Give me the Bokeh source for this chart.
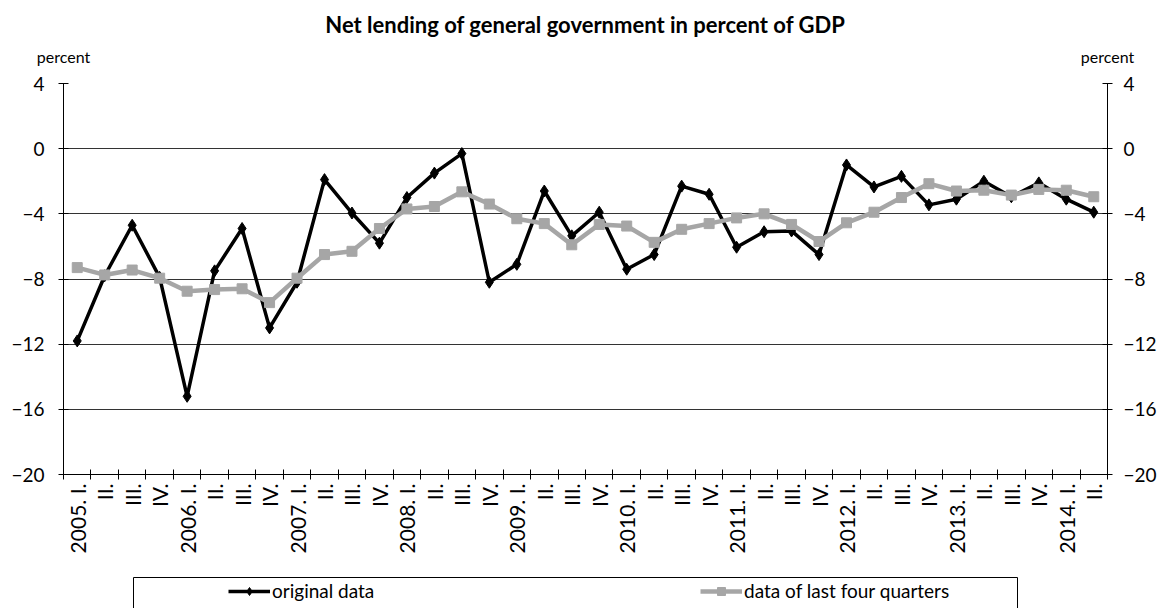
import math
from bokeh.plotting import figure
from bokeh.layouts import column
from bokeh.models import (Range1d, LinearAxis, FixedTicker, Legend, LegendItem, BoxAnnotation)
from bokeh.embed import file_html
from bokeh.resources import INLINE

# ---- data ----
quarters = ["2005. I.", "II.", "III.", "IV.",
            "2006. I.", "II.", "III.", "IV.",
            "2007. I.", "II.", "III.", "IV.",
            "2008. I.", "II.", "III.", "IV.",
            "2009. I.", "II.", "III.", "IV.",
            "2010. I.", "II.", "III.", "IV.",
            "2011. I.", "II.", "III.", "IV.",
            "2012. I.", "II.", "III.", "IV.",
            "2013. I.", "II.", "III.", "IV.",
            "2014. I.", "II."]

original_data = [-11.8, -7.8, -4.7, -7.9,
                 -15.2, -7.5, -4.9, -11.0,
                 -8.2, -1.9, -3.95, -5.8,
                 -3.0, -1.5, -0.3, -8.2,
                 -7.1, -2.6, -5.35, -3.9,
                 -7.4, -6.5, -2.3, -2.8,
                 -6.05, -5.1, -5.05, -6.5,
                 -1.0, -2.35, -1.7, -3.45,
                 -3.1, -2.0, -2.95, -2.1,
                 -3.1, -3.9]

last_four_quarters = [-7.3, -7.75, -7.45, -7.95,
                      -8.75, -8.65, -8.6, -9.45,
                      -7.95, -6.5, -6.3, -4.9,
                      -3.7, -3.55, -2.65, -3.4,
                      -4.3, -4.6, -5.9, -4.65,
                      -4.75, -5.75, -4.95, -4.6,
                      -4.25, -4.0, -4.65, -5.7,
                      -4.55, -3.9, -3.0, -2.15,
                      -2.6, -2.55, -2.85, -2.5,
                      -2.55, -2.95]

y_ticks = [-20, -16, -12, -8, -4, 0, 4]
title_text = "Net lending of general government in percent of GDP"
unit_text = "percent"
series_names = ["original data", "data of last four quarters"]

FONT = "Lato"
BLACK_STYLE = dict(line_color="black", line_width=3.5)
GRAY_STYLE = dict(line_color="#a6a6a6", line_width=4.5)

n = len(quarters)
xs = [i + 0.5 for i in range(n)]

p = figure(width=1164, height=574, output_backend="svg", toolbar_location=None,
           x_range=Range1d(0, n), y_range=Range1d(y_ticks[0], y_ticks[-1]),
           min_border_left=63, min_border_right=57, min_border_top=83, min_border_bottom=100)
p.outline_line_color = None
p.xgrid.grid_line_color = None
p.ygrid.ticker = FixedTicker(ticks=y_ticks)
p.ygrid.grid_line_color = "#333333"
p.ygrid.grid_line_width = 1
p.background_fill_color = "white"
p.border_fill_color = "white"

p.title.text = title_text
p.title.align = "center"
p.title.text_font = FONT
p.title.text_font_style = "bold"
p.title.text_font_size = "22px"
p.title.text_color = "black"
p.title.standoff = 12

# x axis
xa = p.xaxis[0]
xa.ticker = FixedTicker(ticks=xs, minor_ticks=list(range(n + 1)))
xa.major_label_overrides = {x: lab for x, lab in zip(xs, quarters)}
xa.major_label_orientation = math.pi / 2
xa.major_tick_line_color = None
xa.minor_tick_in = 5
xa.minor_tick_out = 5
xa.minor_tick_line_color = "black"
xa.axis_line_color = "black"
xa.major_label_text_font = FONT
xa.major_label_text_font_size = "21px"
xa.major_label_text_color = "black"
xa.major_label_standoff = 3

# y axes
ya = p.yaxis[0]
ra = LinearAxis()
p.add_layout(ra, "right")
for ax, st in ((ya, 14), (ra, 11)):
    ax.ticker = FixedTicker(ticks=y_ticks)
    ax.minor_tick_line_color = None
    ax.major_tick_in = 5
    ax.major_tick_out = 5
    ax.major_tick_line_color = "black"
    ax.axis_line_color = "black"
    ax.major_label_text_font = FONT
    ax.major_label_text_font_size = "19px"
    ax.major_label_text_color = "black"
    ax.major_label_standoff = st

# unit labels above both value axes
ua = LinearAxis(ticker=FixedTicker(ticks=[0, n]),
                major_label_overrides={0: unit_text, n: unit_text})
ua.axis_line_color = None
ua.major_tick_line_color = None
ua.minor_tick_line_color = None
ua.major_tick_out = 0
ua.major_tick_in = 0
ua.major_label_standoff = 18
ua.major_label_text_font = FONT
ua.major_label_text_font_size = "16px"
ua.major_label_text_color = "black"
p.add_layout(ua, "above")

# series
p.line(xs, original_data, **BLACK_STYLE)
p.scatter(xs, original_data, marker="diamond", size=12, color="black")
p.line(xs, last_four_quarters, **GRAY_STYLE)
p.scatter(xs, last_four_quarters, marker="square", size=10, color="#a6a6a6")

# ---- legend strip (its frame is aligned with the chart frame, x from 63) ----
q = figure(width=1164, height=34, output_backend="svg", toolbar_location=None,
           x_range=Range1d(0, 1), y_range=Range1d(100, 101),
           x_axis_type=None, y_axis_type=None, min_border=0)
q.outline_line_color = None
q.grid.visible = False
q.background_fill_color = "white"
q.border_fill_color = "white"
# same series, drawn far outside this strip's visible range: only their legend glyphs show
g1 = q.line(xs, original_data, **BLACK_STYLE)
m1 = q.scatter(xs, original_data, marker="diamond", size=12, color="black")
g2 = q.line(xs, last_four_quarters, **GRAY_STYLE)
m2 = q.scatter(xs, last_four_quarters, marker="square", size=10, color="#a6a6a6")

q.add_layout(BoxAnnotation(left=70, right=954, top=31, bottom=-6,
                           left_units="screen", right_units="screen",
                           top_units="screen", bottom_units="screen",
                           fill_color=None, fill_alpha=0, line_color="black",
                           line_alpha=1, line_width=1))

legend = Legend(items=[LegendItem(label=series_names[0], renderers=[g1, m1], index=0),
                       LegendItem(label=series_names[1], renderers=[g2, m2], index=0)],
                orientation="horizontal", location=(165, 6))
legend.label_text_font = FONT
legend.label_text_font_size = "19px"
legend.label_text_color = "black"
legend.glyph_width = 42
legend.glyph_height = 20
legend.label_standoff = 2
legend.label_width = 140
legend.label_height = 20
legend.spacing = 288
legend.padding = 0
legend.margin = 0
legend.border_line_color = None
legend.background_fill_alpha = 0
q.add_layout(legend, "center")

layout = column(p, q, spacing=0)
open("out.html", "w").write(file_html(layout, INLINE))
